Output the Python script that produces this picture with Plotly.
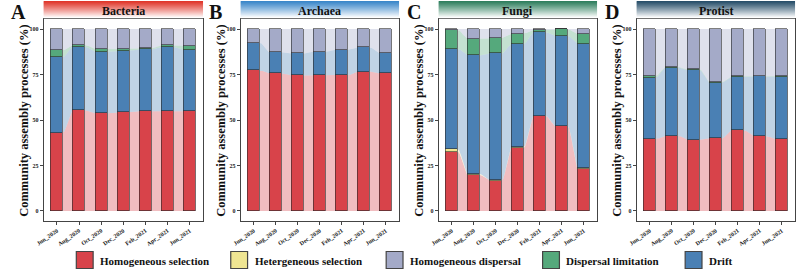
import numpy as np
import plotly.graph_objects as go

# ---------------- data ----------------
months = ["Jun_2020", "Aug_2020", "Oct_2020", "Dec_2020", "Feb_2021", "Apr_2021", "Jun_2021"]
panels = ["Bacteria", "Archaea", "Fungi", "Protist"]
letters = ["A", "B", "C", "D"]

# stack order bottom -> top
stack_keys = ["HoS", "HeS", "Drift", "DL", "HD"]
legend_keys = ["HoS", "HeS", "HD", "DL", "Drift"]
labels = {
    "HoS": "Homogeneous selection",
    "HeS": "Hetergeneous selection",
    "HD": "Homogeneous dispersal",
    "DL": "Dispersal limitation",
    "Drift": "Drift",
}

bacteria_HoS = [43.0, 55.3, 53.7, 54.2, 54.8, 54.8, 54.8]
bacteria_HeS = [0.0, 0.0, 0.0, 0.0, 0.0, 0.0, 0.0]
bacteria_Drift = [41.6, 35.0, 33.8, 33.7, 34.0, 35.3, 33.8]
bacteria_DL = [3.7, 0.9, 1.5, 1.3, 0.6, 0.9, 2.1]
bacteria_HD = [11.7, 8.8, 11.0, 10.8, 10.6, 9.0, 9.3]

archaea_HoS = [77.3, 75.6, 74.5, 74.9, 74.5, 76.6, 75.6]
archaea_HeS = [0.0, 0.0, 0.0, 0.0, 0.0, 0.0, 0.0]
archaea_Drift = [15.2, 11.6, 12.1, 12.6, 14.1, 13.3, 11.0]
archaea_DL = [0.0, 0.0, 0.0, 0.0, 0.0, 0.0, 0.0]
archaea_HD = [7.5, 12.8, 13.4, 12.5, 11.4, 10.1, 13.4]

fungi_HoS = [32.6, 19.8, 16.7, 34.8, 52.2, 46.5, 23.3]
fungi_HeS = [1.4, 0.5, 0.1, 0.5, 0.1, 0.1, 0.5]
fungi_Drift = [55.2, 65.2, 69.8, 56.5, 45.9, 49.6, 68.1]
fungi_DL = [10.4, 9.2, 8.5, 5.6, 1.4, 3.6, 5.2]
fungi_HD = [0.4, 5.3, 4.9, 2.6, 0.4, 0.2, 2.9]

protist_HoS = [39.4, 41.4, 39.2, 39.9, 44.5, 41.2, 39.4]
protist_HeS = [0.0, 0.0, 0.0, 0.0, 0.0, 0.0, 0.0]
protist_Drift = [33.9, 37.4, 38.1, 30.6, 29.3, 32.8, 34.4]
protist_DL = [0.9, 0.3, 0.5, 0.4, 0.2, 0.4, 0.4]
protist_HD = [25.8, 20.9, 22.2, 29.1, 26.0, 25.6, 25.8]

panel_data = [
    {"HoS": bacteria_HoS, "HeS": bacteria_HeS, "Drift": bacteria_Drift, "DL": bacteria_DL, "HD": bacteria_HD},
    {"HoS": archaea_HoS, "HeS": archaea_HeS, "Drift": archaea_Drift, "DL": archaea_DL, "HD": archaea_HD},
    {"HoS": fungi_HoS, "HeS": fungi_HeS, "Drift": fungi_Drift, "DL": fungi_DL, "HD": fungi_HD},
    {"HoS": protist_HoS, "HeS": protist_HeS, "Drift": protist_Drift, "DL": protist_DL, "HD": protist_HD},
]

# ---------------- style ----------------
colors = {
    "HoS": (216, 67, 74),
    "HeS": (239, 229, 146),
    "HD": (164, 170, 200),
    "DL": (85, 169, 124),
    "Drift": (74, 128, 180),
}
strip_top = [(224, 55, 43), (59, 135, 201), (47, 127, 94), (40, 79, 106)]
FONT = "Liberation Serif"
W, H = 800, 271
BAR_W = 0.54

panel_px = [(36, 197), (235, 395), (435, 595), (635, 795)]
plot_top, plot_bot = 19, 221
strip_y0, strip_y1 = 1, 18


def rgb(c, a=None):
    if a is None:
        return "rgb(%d,%d,%d)" % c
    return "rgba(%d,%d,%d,%.2f)" % (c[0], c[1], c[2], a)


def py(p):  # pixel y -> paper
    return 1 - p / H


def px(p):
    return p / W


def ribbon_path(vals, w):
    xs, ys = [], []
    n = len(vals)
    for i in range(n):
        xc = i + 1
        xs += [xc - w / 2, xc + w / 2]
        ys += [vals[i], vals[i]]
        if i < n - 1:
            t = np.linspace(0, 1, 30)[1:-1]
            s = t * t * (3 - 2 * t)
            x0, x1 = xc + w / 2, xc + 1 - w / 2
            xs += list(x0 + (x1 - x0) * t)
            ys += list(vals[i] + (vals[i + 1] - vals[i]) * s)
    return xs, ys


fig = go.Figure()
layout = {}
shapes = []
annotations = []
xpos = list(range(1, len(months) + 1))

for k, data in enumerate(panel_data):
    base = k + 1
    over = k + 5
    xb = "x%d" % base
    yb = "y%d" % base
    xo = "x%d" % over
    yo = "y%d" % over

    # ribbons (alluvial-like areas) on base axes
    cum = np.zeros(len(months))
    xs, ys = ribbon_path(list(cum), BAR_W)
    fig.add_trace(go.Scatter(x=xs, y=ys, mode="lines", line=dict(width=0), xaxis=xb, yaxis=yb,
                             showlegend=False, hoverinfo="skip"))
    for key in stack_keys:
        cum = cum + np.array(data[key])
        xs, ys = ribbon_path(list(cum), BAR_W)
        fig.add_trace(go.Scatter(x=xs, y=ys, mode="lines", line=dict(width=0), fill="tonexty",
                                 fillcolor=rgb(colors[key], 0.35), xaxis=xb, yaxis=yb,
                                 showlegend=False, hoverinfo="skip"))

    # bars on overlay axes (drawn above ribbons)
    for key in stack_keys:
        fig.add_trace(go.Bar(x=xpos, y=data[key], width=BAR_W, marker_color=rgb(colors[key]),
                             marker_line_color="#2a2a2a", marker_line_width=0.6,
                             xaxis=xo, yaxis=yo, showlegend=False, name=labels[key]))

    x0p, x1p = panel_px[k]
    dom_x = [px(x0p), px(x1p)]
    dom_y = [py(plot_bot), py(plot_top)]
    axis_common = dict(showgrid=False, zeroline=False)
    layout["xaxis%d" % base] = dict(domain=dom_x, range=[0.4, 7.6], anchor=yb, tickvals=xpos, ticktext=months,
                                   tickangle=-35, tickfont=dict(family=FONT, size=6, color="#222", weight="bold"),
                                   showline=True, linecolor="#444", linewidth=1, mirror=True,
                                   ticks="outside", ticklen=3, tickcolor="#444", **axis_common)
    layout["yaxis%d" % base] = dict(domain=dom_y, range=[-5.5, 105.5], anchor=xb, tickvals=[0, 25, 50, 75, 100],
                                   tickfont=dict(family=FONT, size=6, color="#222", weight="bold"),
                                   showline=True, linecolor="#444", linewidth=1, mirror=True,
                                   ticks="outside", ticklen=3, tickcolor="#444", **axis_common)
    layout["xaxis%d" % over] = dict(overlaying=xb, range=[0.4, 7.6], visible=False, anchor=yo, **axis_common)
    layout["yaxis%d" % over] = dict(overlaying=yb, range=[-5.5, 105.5], visible=False, anchor=xo, **axis_common)

    # gradient strip
    n_steps = 17
    for s in range(n_steps):
        f = s / (n_steps - 1)
        c = tuple(int(round(strip_top[k][j] + (255 - strip_top[k][j]) * f ** 1.1)) for j in range(3))
        ya = strip_y0 + (strip_y1 - strip_y0) * s / n_steps
        yb_ = strip_y0 + (strip_y1 - strip_y0) * (s + 1) / n_steps
        shapes.append(dict(type="rect", xref="paper", yref="paper", x0=px(x0p), x1=px(x1p),
                           y0=py(yb_ + 0.3), y1=py(ya), fillcolor=rgb(c), line=dict(width=0), layer="above"))
    annotations.append(dict(text=panels[k], xref="paper", yref="paper", x=px((x0p + x1p) / 2),
                            y=py((strip_y0 + strip_y1) / 2 + 1), showarrow=False,
                            font=dict(family=FONT, size=12, color="#111", weight="bold"),
                            xanchor="center", yanchor="middle"))
    # panel letter
    annotations.append(dict(text=letters[k], xref="paper", yref="paper", x=px(x0p - 25), y=1.0,
                            showarrow=False, font=dict(family=FONT, size=20, color="#111", weight="bold"),
                            xanchor="center", yanchor="top", borderpad=0))
    # y title
    annotations.append(dict(text="Community assembly processes (%)", xref="paper", yref="paper",
                            x=px(x0p - 20), y=py(121), textangle=-90, showarrow=False,
                            font=dict(family=FONT, size=12.5, color="#111", weight="bold"),
                            xanchor="center", yanchor="middle"))

# manual legend
legend_box_x = [69, 225, 382, 540, 684]
box = 17
ly = 260
for key, bx in zip(legend_keys, legend_box_x):
    shapes.append(dict(type="rect", xref="paper", yref="paper", x0=px(bx), x1=px(bx + box),
                       y0=py(ly + box / 2), y1=py(ly - box / 2), fillcolor=rgb(colors[key]),
                       line=dict(color="#444", width=1.2)))
    annotations.append(dict(text=labels[key], xref="paper", yref="paper", x=px(bx + box + 5), y=py(ly + 0.5),
                            showarrow=False, xanchor="left", yanchor="middle",
                            font=dict(family=FONT, size=11, color="#111", weight="bold")))

fig.update_layout(
    width=W, height=H, margin=dict(l=0, r=0, t=0, b=0),
    paper_bgcolor="white", plot_bgcolor="white",
    barmode="stack", bargap=0, showlegend=False,
    shapes=shapes, annotations=annotations,
    **layout,
)

fig.write_html("out.html")
